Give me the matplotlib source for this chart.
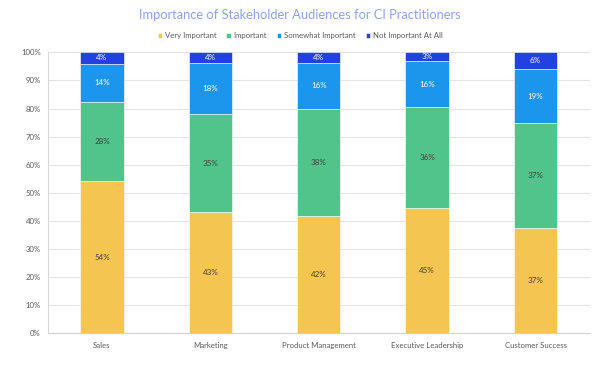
import numpy as np
import matplotlib
matplotlib.use('Agg')
import matplotlib.pyplot as plt
from matplotlib.ticker import PercentFormatter

plt.rcParams['font.family'] = ['Lato', 'DejaVu Sans']

# 数据
categories = ['Sales', 'Marketing', 'Product Management', 'Executive Leadership', 'Customer Success']
series_names = ['Very Important', 'Important', 'Somewhat Important', 'Not Important At All']
very_important = [54.3, 43.2, 41.7, 44.6, 37.4]
important = [28.0, 34.7, 38.3, 35.8, 37.3]
somewhat_important = [13.7, 18.2, 16.1, 16.4, 19.4]
not_important = [4.0, 3.9, 3.9, 3.2, 5.9]

colors = ['#F5C551', '#50C48A', '#1C96EC', '#2241E0']
label_colors = ['#404040', '#404040', 'white', 'white']

fig = plt.figure(figsize=(6, 3.71), dpi=100)
ax = fig.add_axes([0.0795, 0.1016, 0.9035, 0.7574])

x = np.arange(len(categories))
bottom = np.zeros(len(categories))
for name, vals, c, lc in zip(series_names,
                             [very_important, important, somewhat_important, not_important],
                             colors, label_colors):
    vals = np.array(vals)
    bars = ax.bar(x, vals, 0.4, bottom=bottom, color=c, label=name,
                  edgecolor='white', linewidth=0.4, zorder=3)
    ax.bar_label(bars, labels=[f'{v:.0f}%' for v in vals], label_type='center',
                 color=lc, fontsize=5.8)
    bottom += vals

ax.set_xlim(-0.5, len(categories) - 0.5)
ax.set_ylim(0, 100)
ax.set_yticks(np.arange(0, 101, 10))
ax.yaxis.set_major_formatter(PercentFormatter(decimals=0))
ax.set_xticks(x)
ax.set_xticklabels(categories)
ax.tick_params(axis='both', length=0, labelsize=5.6, colors='#595959')
ax.tick_params(axis='x', pad=6)
ax.tick_params(axis='y', pad=5)
ax.grid(axis='y', color='#E3E3E3', linewidth=0.8, zorder=0)
for s in ['top', 'right']:
    ax.spines[s].set_visible(False)
ax.spines['left'].set_color('#D9D9D9')
ax.spines['bottom'].set_color('#D0D0D0')

fig.suptitle('Importance of Stakeholder Audiences for CI Practitioners',
             y=0.975, fontsize=9.3, color='#8CA3F0')
fig.legend(loc='center', bbox_to_anchor=(0.5, 0.903), ncol=4, frameon=False,
           fontsize=5.6, handlelength=0.55, handleheight=0.55, handletextpad=0.35,
           columnspacing=1.3, labelcolor='#595959')

plt.savefig('out.png', dpi=100)
